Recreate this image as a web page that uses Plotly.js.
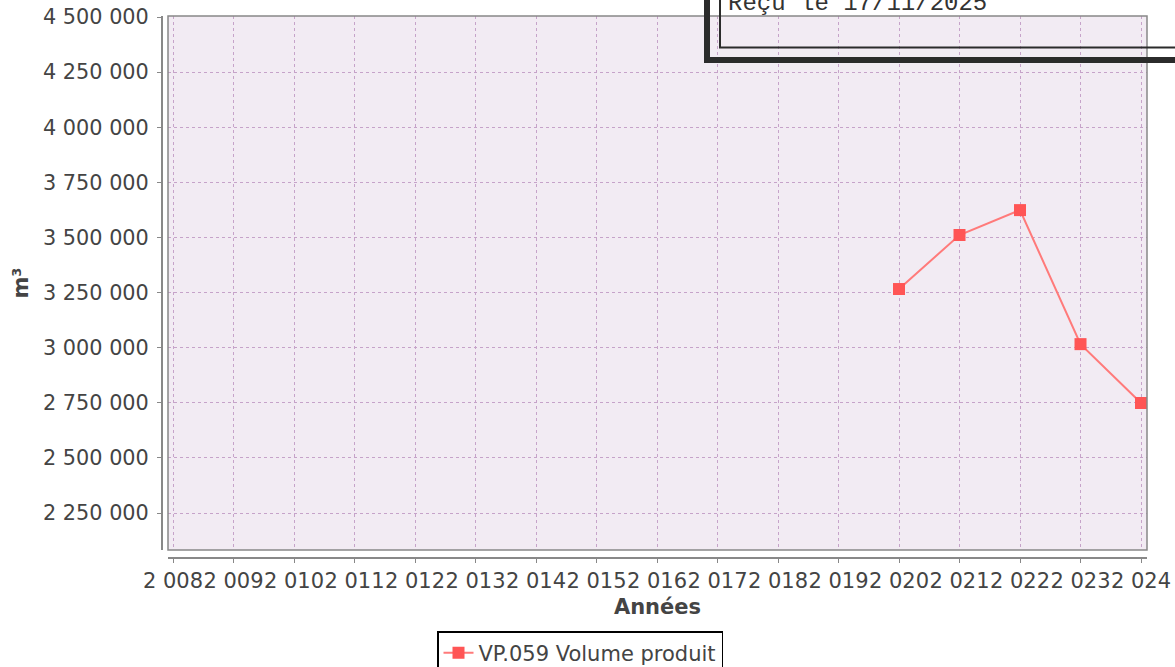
<!DOCTYPE html>
<html>
<head>
<meta charset="utf-8">
<script src="https://cdn.plot.ly/plotly-3.0.1.min.js"></script>
<style>
html,body{margin:0;padding:0;background:#fff;}
#chart{width:1175px;height:667px;}
</style>
</head>
<body>
<div id="chart"></div>
<script>
// ---- data ----
const years = [2020, 2021, 2022, 2023, 2024];
const volumes = [3266000, 3511000, 3624000, 3016000, 2749000];
const seriesName = "VP.059 Volume produit";
const xTickVals = [2008,2009,2010,2011,2012,2013,2014,2015,2016,2017,2018,2019,2020,2021,2022,2023,2024];
const xTickLabels = ["2\u00a0008","2\u00a0009","2\u00a0010","2\u00a0011","2\u00a0012","2\u00a0013","2\u00a0014","2\u00a0015","2\u00a0016","2\u00a0017","2\u00a0018","2\u00a0019","2\u00a0020","2\u00a0021","2\u00a0022","2\u00a0023","2\u00a0024"];
const yTickVals = [2250000,2500000,2750000,3000000,3250000,3500000,3750000,4000000,4250000,4500000];
const yTickLabels = ["2\u00a0250\u00a0000","2\u00a0500\u00a0000","2\u00a0750\u00a0000","3\u00a0000\u00a0000","3\u00a0250\u00a0000","3\u00a0500\u00a0000","3\u00a0750\u00a0000","4\u00a0000\u00a0000","4\u00a0250\u00a0000","4\u00a0500\u00a0000"];
const xTitle = "Années";
const yTitle = "m³";
const stampText = "Reçu le 17/11/2025";

// ---- layout helpers (pixel -> paper) ----
const W = 1175, H = 667;
const M = {l:161, r:28, t:16, b:110};
const pw = W - M.l - M.r, ph = H - M.t - M.b;
const px = p => (p - M.l) / pw;
const py = p => (H - M.b - p) / ph;

const font = "DejaVu Sans, Verdana, sans-serif";
const gridColor = "#c6a3c9";

const trace = {
  x: years, y: volumes, name: seriesName,
  type: "scatter", mode: "lines+markers",
  line: {color: "#ff7a7a", width: 2},
  marker: {symbol: "square", size: 12, color: "#ff5555"},
  cliponaxis: false
};

const layout = {
  width: W, height: H,
  margin: M,
  paper_bgcolor: "#ffffff",
  plot_bgcolor: "#f2ebf3",
  showlegend: true,
  font: {family: font, size: 19, color: "#444444"},
  xaxis: {
    domain: [px(168), 1],
    range: [2007.917, 2024.099],
    anchor: "free", position: 0,
    automargin: false,
    tickmode: "array", tickvals: xTickVals, ticktext: xTickLabels,
    tickangle: 0,
    tickfont: {family: font, size: 21, color: "#444444"},
    ticks: "outside", ticklen: 4, tickcolor: "#888888", tickwidth: 1,
    showline: true, linecolor: "#888888", linewidth: 1.5,
    showgrid: true, gridcolor: gridColor, griddash: "3px,3px", gridwidth: 1,
    zeroline: false, fixedrange: true,
    title: {text: xTitle, standoff: 7, font: {family: font, size: 21, color: "#444444", weight: "bold"}}
  },
  yaxis: {
    domain: [py(550), 1],
    range: [2082157, 4504536],
    anchor: "free", position: 0,
    automargin: false,
    tickmode: "array", tickvals: yTickVals, ticktext: yTickLabels,
    tickangle: 0,
    tickfont: {family: font, size: 20.8, color: "#444444"},
    ticks: "outside", ticklen: 4, tickcolor: "#888888", tickwidth: 1,
    ticklabelstandoff: 4,
    showline: true, linecolor: "#888888", linewidth: 1.5,
    showgrid: true, gridcolor: gridColor, griddash: "3px,3px", gridwidth: 1,
    zeroline: false, fixedrange: true,
    title: {text: yTitle, standoff: 7, font: {family: font, size: 21, color: "#444444", weight: "bold"}}
  },
  legend: {
    xref: "container", yref: "container",
    x: 437 / W, xanchor: "left", y: 1 - 631 / H, yanchor: "top",
    orientation: "h",
    bordercolor: "#000000", borderwidth: 1.5, bgcolor: "#ffffff",
    font: {family: font, size: 21, color: "#444444"},
    itemwidth: 30
  },
  shapes: [
    {type: "rect", xref: "x domain", yref: "y domain", x0: 0, x1: 1, y0: 0, y1: 1,
     line: {color: "#888888", width: 1.5}, fillcolor: "rgba(0,0,0,0)", layer: "above"},
    {type: "rect", xref: "paper", yref: "paper", x0: px(707), x1: px(1220), y0: py(60), y1: py(-30),
     line: {color: "#2b2b2b", width: 6}, fillcolor: "rgba(0,0,0,0)", layer: "above"},
    {type: "rect", xref: "paper", yref: "paper", x0: px(720), x1: px(1220), y0: py(47.5), y1: py(-30),
     line: {color: "#2b2b2b", width: 2}, fillcolor: "rgba(0,0,0,0)", layer: "above"}
  ],
  annotations: [
    {text: stampText, xref: "paper", yref: "paper", x: px(726), y: py(4), xanchor: "left", yanchor: "middle",
     showarrow: false, font: {family: "Liberation Mono, Courier New, monospace", size: 24, color: "#333333"}}
  ]
};

Plotly.newPlot("chart", [trace], layout, {displayModeBar: false, staticPlot: true});
</script>
</body>
</html>
